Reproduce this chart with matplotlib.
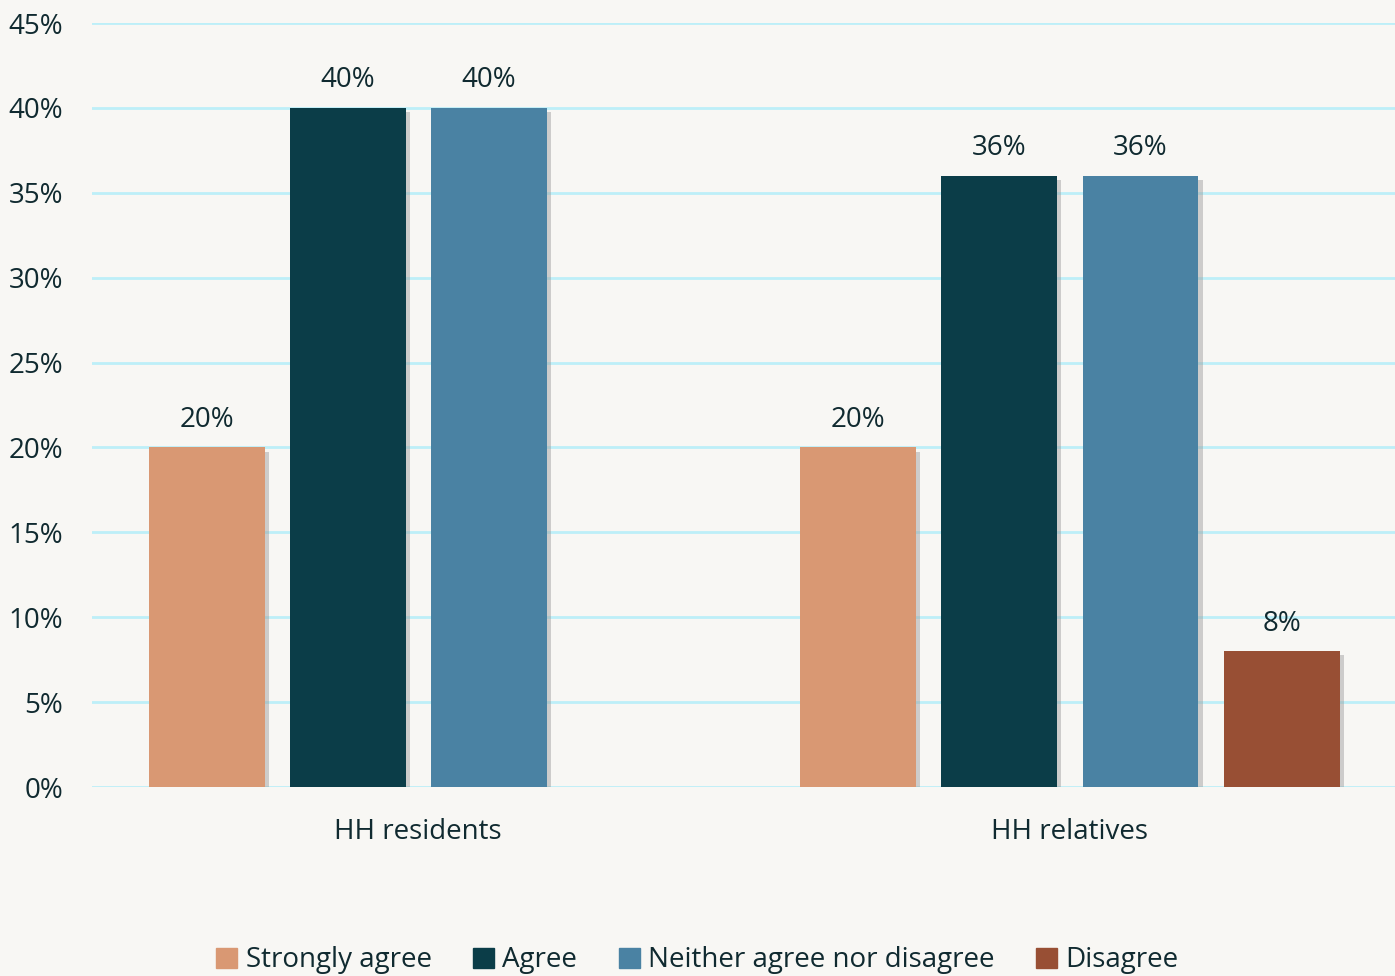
import matplotlib
matplotlib.use("Agg")
import matplotlib.pyplot as plt
import matplotlib.patheffects as pe
import numpy as np

categories = ["HH residents", "HH relatives"]
series_names = ["Strongly agree", "Agree", "Neither agree nor disagree", "Disagree"]
strongly_agree = [20, 20]
agree = [40, 36]
neither = [40, 36]
disagree = [0, 8]
series_values = [strongly_agree, agree, neither, disagree]
colors = ["#D99873", "#0B3D48", "#4A82A3", "#984F34"]
yticks = [0, 5, 10, 15, 20, 25, 30, 35, 40, 45]
ytick_labels = [f"{v}%" for v in yticks]

plt.rcParams['font.family'] = ['Open Sans', 'DejaVu Sans']
text_color = "#102A30"
bg = "#F8F7F4"

fig = plt.figure(figsize=(13.95, 9.76), dpi=100, facecolor=bg)
ax = fig.add_axes([0.066, 0.1936, 0.934, 0.7828], facecolor=bg)

x = np.arange(len(categories))
slot = 0.2167
width = 0.1776
handles = []
for i, (name, vals, c) in enumerate(zip(series_names, series_values, colors)):
    offs = (i - 1.5) * slot + 0.001
    for xi, v in zip(x, vals):
        if v <= 0:
            continue
        ax.bar(xi + offs, v, width=width, color=c, zorder=3,
               path_effects=[pe.SimplePatchShadow(offset=(3, -3), shadow_rgbFace="#999999", alpha=0.45), pe.Normal()])
        ax.text(xi + offs, v + 0.8, f"{v}%", ha="center", va="bottom",
                fontsize=20, color=text_color, zorder=4)
    handles.append(plt.Rectangle((0, 0), 1, 1, color=c))

ax.set_xlim(-0.5, 1.5)
ax.set_ylim(0, 45)
ax.set_yticks(yticks)
ax.set_yticklabels(ytick_labels)
ax.set_xticks(x)
ax.set_xticklabels(categories)
ax.tick_params(axis="both", length=0, labelsize=20, colors=text_color)
ax.tick_params(axis="y", pad=21)
ax.tick_params(axis="x", pad=22)
ax.grid(axis="y", color="#BDEFF8", linewidth=2, zorder=0)
for s in ax.spines.values():
    s.set_visible(False)

leg = fig.legend(handles, series_names, loc="lower center", bbox_to_anchor=(0.5, -0.024),
                 ncol=4, frameon=False, fontsize=20, handlelength=0.75, handleheight=0.75,
                 handletextpad=0.3, columnspacing=1.5, labelcolor=text_color)

fig.savefig("out.png", dpi=100, facecolor=bg)
